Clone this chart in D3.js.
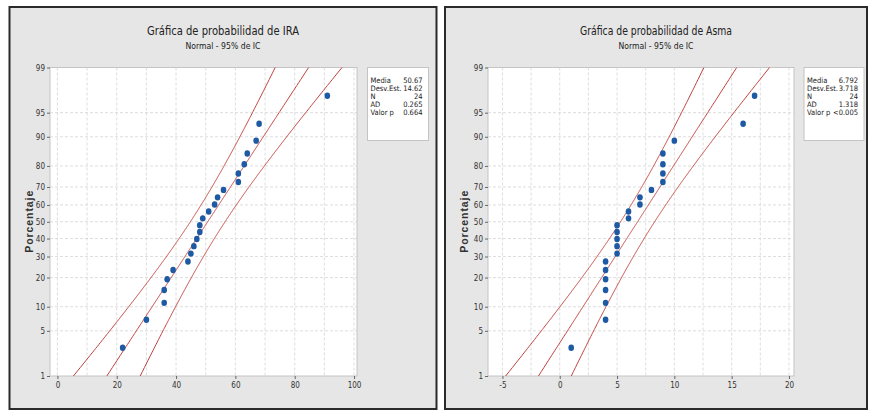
<!DOCTYPE html>
<html>
<head>
<meta charset="utf-8">
<script src="https://cdn.jsdelivr.net/npm/d3@7"></script>
<style>
  html, body { margin: 0; padding: 0; background: #ffffff; }
  svg { display: block; }
  text { font-family: "Liberation Sans Narrow", "DejaVu Sans Condensed", "Liberation Sans", sans-serif; }
</style>
</head>
<body>
<svg id="chart" width="870" height="412"></svg>
<script>
// ---------------- data ----------------
const yTickLabels = [1, 5, 10, 20, 30, 40, 50, 60, 70, 80, 90, 95, 99];

const iraTitle = "Gráfica de probabilidad de IRA";
const asmaTitle = "Gráfica de probabilidad de Asma";
const subTitle = "Normal - 95% de IC";
const yLabel = "Porcentaje";

const iraValues = [22, 30, 36, 36, 37, 39, 44, 45, 46, 47, 48, 48,
                   49, 51, 53, 54, 56, 61, 61, 63, 64, 67, 68, 91];
const asmaValues = [1, 4, 4, 4, 4, 4, 4, 5, 5, 5, 5, 5,
                    6, 6, 7, 7, 8, 9, 9, 9, 9, 10, 16, 17];

const iraXTicks = [0, 20, 40, 60, 80, 100];
const asmaXTicks = [-5, 0, 5, 10, 15, 20];

const statLabels = ["Media", "Desv.Est.", "N", "AD", "Valor p"];
const iraStats = ["50.67", "14.62", "24", "0.265", "0.664"];
const asmaStats = ["6.792", "3.718", "24", "1.318", "<0.005"];

const iraMean = 50.67, iraSd = 14.62;
const asmaMean = 6.792, asmaSd = 3.718;

// ---------------- helpers ----------------
function qnorm(p) {
  // Acklam's inverse normal approximation
  const a = [-3.969683028665376e+01, 2.209460984245205e+02, -2.759285104469687e+02,
             1.383577518672690e+02, -3.066479806614716e+01, 2.506628277459239e+00];
  const b = [-5.447609879822406e+01, 1.615858368580409e+02, -1.556989798598866e+02,
             6.680131188771972e+01, -1.328068155288572e+01];
  const c = [-7.784894002430293e-03, -3.223964580411365e-01, -2.400758277161838e+00,
             -2.549732539343734e+00, 4.374664141464968e+00, 2.938163982698783e+00];
  const d = [7.784695709041462e-03, 3.224671290700398e-01, 2.445134137142996e+00,
             3.754408661907416e+00];
  const pl = 0.02425, ph = 1 - pl;
  let q, r;
  if (p < pl) {
    q = Math.sqrt(-2 * Math.log(p));
    return (((((c[0]*q+c[1])*q+c[2])*q+c[3])*q+c[4])*q+c[5]) /
           ((((d[0]*q+d[1])*q+d[2])*q+d[3])*q+1);
  } else if (p <= ph) {
    q = p - 0.5; r = q * q;
    return (((((a[0]*r+a[1])*r+a[2])*r+a[3])*r+a[4])*r+a[5])*q /
           (((((b[0]*r+b[1])*r+b[2])*r+b[3])*r+b[4])*r+1);
  } else {
    q = Math.sqrt(-2 * Math.log(1 - p));
    return -(((((c[0]*q+c[1])*q+c[2])*q+c[3])*q+c[4])*q+c[5]) /
            ((((d[0]*q+d[1])*q+d[2])*q+d[3])*q+1);
  }
}

const svg = d3.select("#chart");
svg.append("rect").attr("width", 870).attr("height", 412).attr("fill", "#ffffff");

function drawPanel(cfg) {
  const g = svg.append("g");
  // panel background and border
  g.append("rect")
    .attr("x", cfg.px).attr("y", 7).attr("width", cfg.pw).attr("height", 402)
    .attr("fill", "#e6e6e6").attr("stroke", "#2a2a2a").attr("stroke-width", 2);

  const plot = cfg.plot; // {x0, x1, y0, y1}
  const x = d3.scaleLinear().domain(cfg.xDomain).range([plot.x0, plot.x1]);
  const y = d3.scaleLinear().domain([qnorm(0.01), qnorm(0.99)]).range([plot.y1, plot.y0]);

  // titles
  const cx = cfg.px + cfg.pw / 2;
  g.append("text").attr("x", cx).attr("y", 35).attr("text-anchor", "middle")
    .attr("font-size", 12.5).attr("fill", "#222")
    .attr("textLength", cfg.titleLen).attr("lengthAdjust", "spacingAndGlyphs")
    .text(cfg.title);
  g.append("text").attr("x", cx).attr("y", 49).attr("text-anchor", "middle")
    .attr("font-size", 9.5).attr("fill", "#222")
    .attr("textLength", 75).attr("lengthAdjust", "spacingAndGlyphs")
    .text(subTitle);

  // plot area
  g.append("rect")
    .attr("x", plot.x0).attr("y", plot.y0)
    .attr("width", plot.x1 - plot.x0).attr("height", plot.y1 - plot.y0)
    .attr("fill", "#ffffff").attr("stroke", "#c4c4c4").attr("stroke-width", 1);

  // gridlines
  const grid = g.append("g").attr("stroke", "#d4d4d4").attr("stroke-width", 0.8)
    .attr("stroke-dasharray", "3,2");
  yTickLabels.forEach(p => {
    const yy = y(qnorm(p / 100));
    if (p === 1 || p === 99) return;
    grid.append("line").attr("x1", plot.x0).attr("x2", plot.x1).attr("y1", yy).attr("y2", yy);
  });
  d3.range(cfg.gridStart, cfg.gridEnd + 1e-9, cfg.gridStep).forEach(v => {
    const xx = x(v);
    if (xx <= plot.x0 + 0.5 || xx >= plot.x1 - 0.5) return;
    grid.append("line").attr("x1", xx).attr("x2", xx).attr("y1", plot.y0).attr("y2", plot.y1);
  });

  // axes
  const yAxis = d3.axisLeft(y)
    .tickValues(yTickLabels.map(p => qnorm(p / 100)))
    .tickFormat((d, i) => yTickLabels[i]).tickSize(3).tickPadding(2);
  const ya = g.append("g").attr("transform", `translate(${plot.x0},0)`).call(yAxis);
  ya.select(".domain").remove();
  ya.selectAll("line").attr("stroke", "#666");
  ya.selectAll("text").attr("font-size", 8).attr("fill", "#333")
    .style("font-family", '"Liberation Sans Narrow", "DejaVu Sans Condensed", sans-serif');

  const xAxis = d3.axisBottom(x).tickValues(cfg.xTicks).tickSize(3).tickPadding(3)
    .tickFormat(d => d);
  const xa = g.append("g").attr("transform", `translate(0,${plot.y1})`).call(xAxis);
  xa.select(".domain").remove();
  xa.selectAll("line").attr("stroke", "#666");
  xa.selectAll("text").attr("font-size", 8).attr("fill", "#333")
    .style("font-family", '"Liberation Sans Narrow", "DejaVu Sans Condensed", sans-serif');

  // y label
  g.append("text")
    .attr("transform", `translate(${cfg.px + 23},${(plot.y0 + plot.y1) / 2}) rotate(-90)`)
    .attr("text-anchor", "middle").attr("font-size", 10.5).attr("font-weight", "bold")
    .attr("fill", "#333").style("font-family", '"Liberation Sans", "DejaVu Sans", sans-serif')
    .attr("textLength", 62).attr("lengthAdjust", "spacing")
    .text(yLabel);

  // clip
  const clipId = "clip" + cfg.id;
  svg.append("defs").append("clipPath").attr("id", clipId).append("rect")
    .attr("x", plot.x0).attr("y", plot.y0)
    .attr("width", plot.x1 - plot.x0).attr("height", plot.y1 - plot.y0);
  const inner = g.append("g").attr("clip-path", `url(#${clipId})`);

  // fitted line & 95% CI
  const n = cfg.values.length;
  const ps = d3.range(0.002, 0.9985, 0.002);
  const zc = 1.959964;
  const lineGen = d3.line().x(d => x(d[0])).y(d => y(d[1]));
  const fit = ps.map(p => { const z = qnorm(p); return [cfg.mean + cfg.sd * z, z]; });
  const lower = ps.map(p => { const z = qnorm(p);
    const se = cfg.sd * Math.sqrt(1 / n + z * z / (2 * n));
    return [cfg.mean + cfg.sd * z - zc * se, z]; });
  const upper = ps.map(p => { const z = qnorm(p);
    const se = cfg.sd * Math.sqrt(1 / n + z * z / (2 * n));
    return [cfg.mean + cfg.sd * z + zc * se, z]; });
  [lower, fit, upper].forEach(ln => {
    inner.append("path").datum(ln).attr("d", lineGen)
      .attr("fill", "none").attr("stroke", "#c0403c").attr("stroke-width", 1);
  });

  // points (median ranks)
  const sorted = cfg.values.slice().sort((a, b) => a - b);
  inner.selectAll("ellipse.pt").data(sorted).enter().append("ellipse")
    .attr("class", "pt")
    .attr("cx", d => x(d))
    .attr("cy", (d, i) => y(qnorm((i + 1 - 0.3) / (n + 0.4))))
    .attr("rx", 2.8).attr("ry", 3.2)
    .attr("fill", "#1d5aa3");

  // stats box
  const lb = cfg.legend;
  g.append("rect").attr("x", lb.x).attr("y", plot.y0)
    .attr("width", lb.w).attr("height", 73)
    .attr("fill", "#ffffff").attr("stroke", "#c4c4c4").attr("stroke-width", 1);
  statLabels.forEach((s, i) => {
    g.append("text").attr("x", lb.x + 3).attr("y", plot.y0 + 15 + i * 8)
      .attr("font-size", 7.5).attr("fill", "#222").text(s);
    g.append("text").attr("x", lb.x + lb.w - 6).attr("y", plot.y0 + 15 + i * 8)
      .attr("text-anchor", "end").attr("font-size", 7.5).attr("fill", "#222").text(cfg.stats[i]);
  });
}

drawPanel({
  id: "ira", px: 9.5, pw: 427, title: iraTitle, titleLen: 152,
  plot: { x0: 50, x1: 357, y0: 67.5, y1: 376 },
  xDomain: [-2.5, 101], xTicks: iraXTicks,
  gridStart: 0, gridEnd: 100, gridStep: 10,
  values: iraValues, mean: iraMean, sd: iraSd,
  stats: iraStats, legend: { x: 367.5, w: 61 }
});

drawPanel({
  id: "asma", px: 445, pw: 422, title: asmaTitle, titleLen: 152,
  plot: { x0: 488, x1: 794, y0: 67.5, y1: 376 },
  xDomain: [-6.26, 20.44], xTicks: asmaXTicks,
  gridStart: -5, gridEnd: 20, gridStep: 2.5,
  values: asmaValues, mean: asmaMean, sd: asmaSd,
  stats: asmaStats, legend: { x: 804, w: 60 }
});
</script>
</body>
</html>
